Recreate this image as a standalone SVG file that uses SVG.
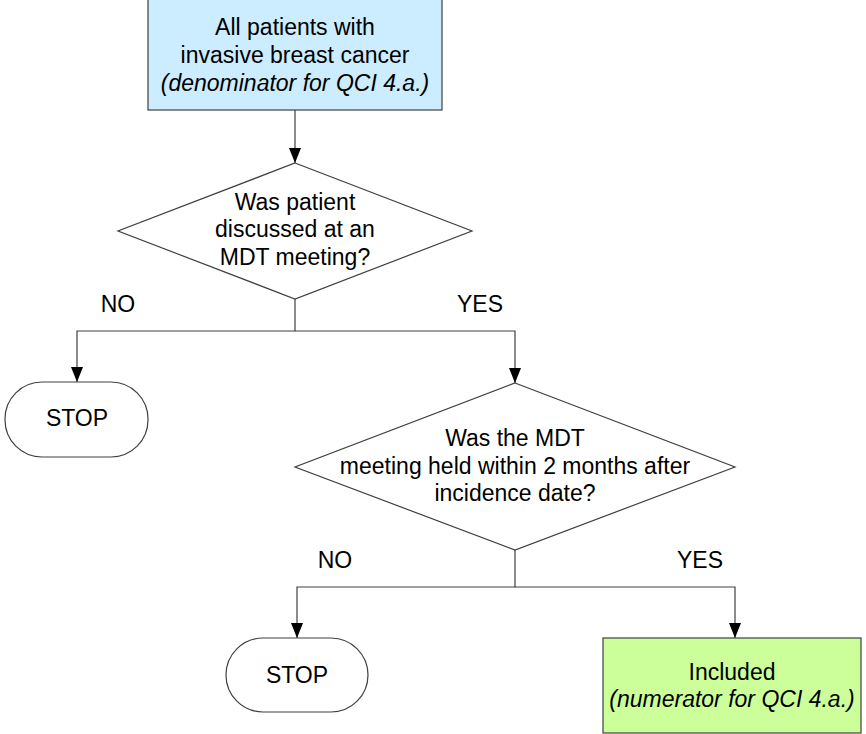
<svg xmlns="http://www.w3.org/2000/svg" width="866" height="734" viewBox="0 0 866 734">
<style>
text{font-family:"Liberation Sans",Arial,sans-serif;font-size:23px;fill:#000;text-anchor:middle}
.it{font-style:italic}
.shape{stroke:#404040;stroke-width:1.2}
.conn{fill:none;stroke:#404040;stroke-width:1.2}
</style>
<defs>
<marker id="arr" viewBox="0 0 15 12" refX="15" refY="6" markerWidth="15" markerHeight="12" markerUnits="userSpaceOnUse" orient="auto">
<path d="M0,0 L15,6 L0,12 Z" fill="#000"/>
</marker>
</defs>
<rect width="866" height="734" fill="#fff"/>
<g id="connectors">
<path class="conn" d="M295,110 V163" marker-end="url(#arr)"/>
<path class="conn" d="M295,299 V331 H77 V382" marker-end="url(#arr)"/>
<path class="conn" d="M295,331 H515 V383" marker-end="url(#arr)"/>
<path class="conn" d="M515,550 V587 H297 V638" marker-end="url(#arr)"/>
<path class="conn" d="M515,587 H735 V638" marker-end="url(#arr)"/>
</g>
<g id="start">
<rect class="shape" x="148" y="-1" width="294" height="111" fill="#CCECFF"/>
<text x="295" y="35">All patients with</text>
<text x="295" y="63">invasive breast cancer</text>
<text class="it" x="295" y="91">(denominator for QCI 4.a.)</text>
</g>
<g id="decision1">
<polygon class="shape" points="295,163 472,231 295,299 118,231" fill="#fff"/>
<text x="295" y="209.5">Was patient</text>
<text x="295" y="237">discussed at an</text>
<text x="295" y="264.5">MDT meeting?</text>
</g>
<g id="label-no1"><text x="118" y="312">NO</text></g>
<g id="label-yes1"><text x="480" y="312">YES</text></g>
<g id="stop1">
<rect class="shape" x="5" y="382" width="143" height="75" rx="37" ry="37" fill="#fff"/>
<text x="77" y="426">STOP</text>
</g>
<g id="decision2">
<polygon class="shape" points="515,383 735,467 515,550 295,467" fill="#fff"/>
<text x="515" y="446">Was the MDT</text>
<text x="515" y="473.5">meeting held within 2 months after</text>
<text x="515" y="501">incidence date?</text>
</g>
<g id="label-no2"><text x="335" y="568">NO</text></g>
<g id="label-yes2"><text x="700" y="568">YES</text></g>
<g id="stop2">
<rect class="shape" x="226" y="638" width="142" height="74" rx="37" ry="37" fill="#fff"/>
<text x="297" y="683">STOP</text>
</g>
<g id="included">
<rect class="shape" x="603" y="638" width="258" height="95" fill="#CCFF99"/>
<text x="732" y="680">Included</text>
<text class="it" x="732" y="707">(numerator for QCI 4.a.)</text>
</g>
</svg>
